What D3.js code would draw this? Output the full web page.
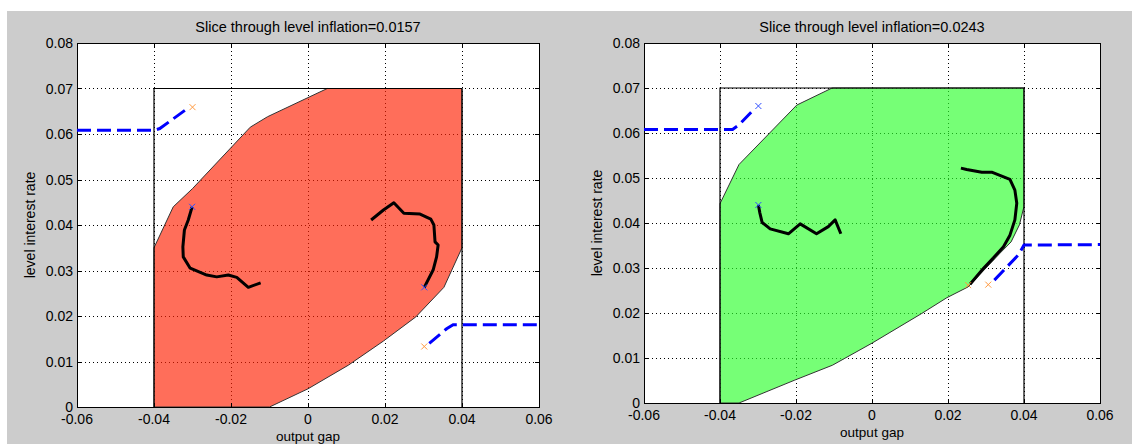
<!DOCTYPE html>
<html>
<head>
<meta charset="utf-8">
<script src="https://cdn.jsdelivr.net/npm/d3@7"></script>
<style>
  body { margin: 0; background: #fff; }
  svg text { font-family: "Liberation Sans", Arial, sans-serif; fill: #000; }
</style>
</head>
<body>
<div id="chart"></div>
<script>
// ---- data ----
const xTicks = [-0.06, -0.04, -0.02, 0, 0.02, 0.04, 0.06];
const yTicks = [0, 0.01, 0.02, 0.03, 0.04, 0.05, 0.06, 0.07, 0.08];
const xTickLabels = ["-0.06", "-0.04", "-0.02", "0", "0.02", "0.04", "0.06"];
const yTickLabels = ["0", "0.01", "0.02", "0.03", "0.04", "0.05", "0.06", "0.07", "0.08"];
const titles = ["Slice through level inflation=0.0157", "Slice through level inflation=0.0243"];

// feasible box (output gap x interest rate)
const boxCorners = [[-0.04, 0], [-0.04, 0.07], [0.04, 0.07], [0.04, 0]];

// left slice
const regionA = [[-0.04, 0], [-0.04, 0.035], [-0.035, 0.044], [-0.03, 0.048], [-0.015, 0.0615],
  [-0.0105, 0.0638], [0.005, 0.07], [0.04, 0.07], [0.04, 0.035], [0.0353, 0.0263],
  [0.028, 0.0198], [0.0196, 0.0145], [0.0105, 0.0092], [0, 0.004], [-0.01, 0]];
const pathA1 = [[-0.0301, 0.0440], [-0.0311, 0.0411], [-0.0321, 0.0389], [-0.0325, 0.0352],
  [-0.0324, 0.0330], [-0.0306, 0.0305], [-0.0263, 0.0290], [-0.0237, 0.0286], [-0.0207, 0.0290],
  [-0.0185, 0.0285], [-0.0155, 0.0263], [-0.0123, 0.0273]];
const pathA2 = [[0.0164, 0.0411], [0.0196, 0.0433], [0.0223, 0.0449], [0.0249, 0.0426],
  [0.0291, 0.0424], [0.0319, 0.0413], [0.0327, 0.0400], [0.0330, 0.0363], [0.0338, 0.0356],
  [0.0334, 0.0330], [0.0325, 0.0301], [0.0302, 0.0263]];
const dashA1 = [[-0.06, 0.0608], [-0.04, 0.0608], [-0.0385, 0.0612], [-0.0318, 0.0653]];
const dashA2 = [[0.0315, 0.0140], [0.0360, 0.0172], [0.0377, 0.0181], [0.06, 0.0181]];
const blueMarksA = [[-0.0301, 0.0440], [0.0302, 0.0263]];
const orangeMarksA = [[-0.0300, 0.0659], [0.0302, 0.0133]];

// right slice
const regionB = [[-0.035, 0], [-0.04, 0], [-0.04, 0.0443], [-0.035, 0.053], [-0.0198, 0.0662],
  [-0.0105, 0.07], [0.04, 0.07], [0.04, 0.0437], [0.0388, 0.0396], [0.0366, 0.0358],
  [0.0337, 0.0333], [0.0253, 0.0258], [0.0197, 0.0234], [0.0131, 0.0199], [0, 0.0133],
  [-0.0104, 0.0084], [-0.0203, 0.0051]];
const pathB1 = [[-0.0299, 0.0440], [-0.0295, 0.0422], [-0.0289, 0.0401], [-0.0268, 0.0387],
  [-0.0220, 0.0376], [-0.0189, 0.0398], [-0.0146, 0.0376], [-0.0115, 0.0392], [-0.0097, 0.0407],
  [-0.0082, 0.0376]];
const pathB2 = [[0.0234, 0.0522], [0.0249, 0.0519], [0.0289, 0.0513], [0.0315, 0.0513],
  [0.0363, 0.0497], [0.0376, 0.0473], [0.0381, 0.0444], [0.0376, 0.0407], [0.0363, 0.0373],
  [0.0346, 0.0347], [0.0319, 0.0322], [0.0293, 0.0299], [0.0258, 0.0264]];
const dashB1 = [[-0.06, 0.0608], [-0.0367, 0.0608], [-0.035, 0.0618], [-0.0316, 0.0648]];
const dashB2 = [[0.0322, 0.0273], [0.0385, 0.0329], [0.0400, 0.0351], [0.06, 0.0352]];
const blueMarksB = [[-0.0299, 0.0440], [-0.0299, 0.0660]];
const orangeMarksB = [[0.0253, 0.0262], [0.0306, 0.0263]];

const panels = [
  {title: titles[0], left: 77, right: 539, top: 43, bottom: 407, fill: "rgb(255,32,2)",
   region: regionA, paths: [pathA1, pathA2], dashes: [dashA1, dashA2],
   blue: blueMarksA, orange: orangeMarksA},
  {title: titles[1], left: 644, right: 1100, top: 43, bottom: 403, fill: "rgb(45,255,45)",
   region: regionB, paths: [pathB1, pathB2], dashes: [dashB1, dashB2],
   blue: blueMarksB, orange: orangeMarksB}
];

const W = 1132, H = 444;
const svg = d3.select("#chart").append("svg")
  .attr("width", W).attr("height", H);

// grey figure background
svg.append("rect")
  .attr("x", 7).attr("y", 11).attr("width", W - 7).attr("height", H - 11)
  .attr("fill", "rgb(204,204,204)");

function drawPanel(p) {
  const xScale = d3.scaleLinear().domain([-0.06, 0.06]).range([p.left, p.right]);
  const yScale = d3.scaleLinear().domain([0, 0.08]).range([p.bottom, p.top]);
  const g = svg.append("g");
  const line = d3.line().x(d => xScale(d[0])).y(d => yScale(d[1]));

  // axes background
  g.append("rect")
    .attr("x", p.left).attr("y", p.top)
    .attr("width", p.right - p.left).attr("height", p.bottom - p.top)
    .attr("fill", "#fff");

  // dotted grid
  g.selectAll(".gx").data(xTicks.slice(1, -1)).join("line")
    .attr("x1", d => Math.round(xScale(d)) + 0.5).attr("x2", d => Math.round(xScale(d)) + 0.5)
    .attr("y1", p.top).attr("y2", p.bottom)
    .attr("stroke", "#000").attr("stroke-width", 1).attr("stroke-dasharray", "1,3");
  g.selectAll(".gy").data(yTicks.slice(1, -1)).join("line")
    .attr("y1", d => Math.round(yScale(d)) + 0.5).attr("y2", d => Math.round(yScale(d)) + 0.5)
    .attr("x1", p.left).attr("x2", p.right)
    .attr("stroke", "#000").attr("stroke-width", 1).attr("stroke-dasharray", "1,3");

  // feasible region (translucent so the grid shows through)
  g.append("path")
    .attr("d", line(p.region) + "Z")
    .attr("fill", p.fill).attr("fill-opacity", 0.65)
    .attr("stroke", "#333").attr("stroke-width", 1);

  // box outline
  g.append("path")
    .attr("d", line(boxCorners))
    .attr("fill", "none").attr("stroke", "#000").attr("stroke-width", 1.2);

  // axes frame and inward ticks
  g.append("rect")
    .attr("x", p.left + 0.5).attr("y", p.top + 0.5)
    .attr("width", p.right - p.left).attr("height", p.bottom - p.top)
    .attr("fill", "none").attr("stroke", "#000").attr("stroke-width", 1);
  const tl = 4;
  xTicks.forEach(t => {
    const x = Math.round(xScale(t)) + 0.5;
    g.append("line").attr("x1", x).attr("x2", x).attr("y1", p.bottom).attr("y2", p.bottom - tl).attr("stroke", "#000");
    g.append("line").attr("x1", x).attr("x2", x).attr("y1", p.top).attr("y2", p.top + tl).attr("stroke", "#000");
  });
  yTicks.forEach(t => {
    const y = Math.round(yScale(t)) + 0.5;
    g.append("line").attr("y1", y).attr("y2", y).attr("x1", p.left).attr("x2", p.left + tl).attr("stroke", "#000");
    g.append("line").attr("y1", y).attr("y2", y).attr("x1", p.right).attr("x2", p.right - tl).attr("stroke", "#000");
  });

  // dashed blue paths
  p.dashes.forEach(d => {
    g.append("path").attr("d", line(d))
      .attr("fill", "none").attr("stroke", "#0000ff").attr("stroke-width", 3)
      .attr("stroke-dasharray", "14,6");
  });

  // black trajectories
  p.paths.forEach(d => {
    g.append("path").attr("d", line(d))
      .attr("fill", "none").attr("stroke", "#000").attr("stroke-width", 3)
      .attr("stroke-linejoin", "round");
  });

  // x markers
  const mark = (pts, color) => {
    g.selectAll(null).data(pts).join("path")
      .attr("d", d => {
        const x = xScale(d[0]), y = yScale(d[1]), r = 3;
        return `M${x - r},${y - r}L${x + r},${y + r}M${x - r},${y + r}L${x + r},${y - r}`;
      })
      .attr("stroke", color).attr("stroke-width", 1).attr("fill", "none");
  };
  mark(p.blue, "#3050ff");
  mark(p.orange, "#ff9a40");

  // tick labels
  g.selectAll(".xl").data(xTicks).join("text")
    .attr("x", d => xScale(d)).attr("y", p.bottom + 17)
    .attr("text-anchor", "middle").attr("font-size", 14)
    .text((d, i) => xTickLabels[i]);
  g.selectAll(".yl").data(yTicks).join("text")
    .attr("x", p.left - 4).attr("y", d => yScale(d) + 5)
    .attr("text-anchor", "end").attr("font-size", 14)
    .text((d, i) => yTickLabels[i]);

  // title and axis labels
  const cx = (p.left + p.right) / 2;
  g.append("text").attr("x", cx).attr("y", 32)
    .attr("text-anchor", "middle").attr("font-size", 14.5).text(p.title);
  g.append("text").attr("x", cx).attr("y", p.bottom + 34)
    .attr("text-anchor", "middle").attr("font-size", 13.5).text("output gap");
  g.append("text")
    .attr("transform", `translate(${p.left - 42},${(p.top + p.bottom) / 2}) rotate(-90)`)
    .attr("text-anchor", "middle").attr("font-size", 14).text("level interest rate");
}

panels.forEach(drawPanel);
</script>
</body>
</html>
